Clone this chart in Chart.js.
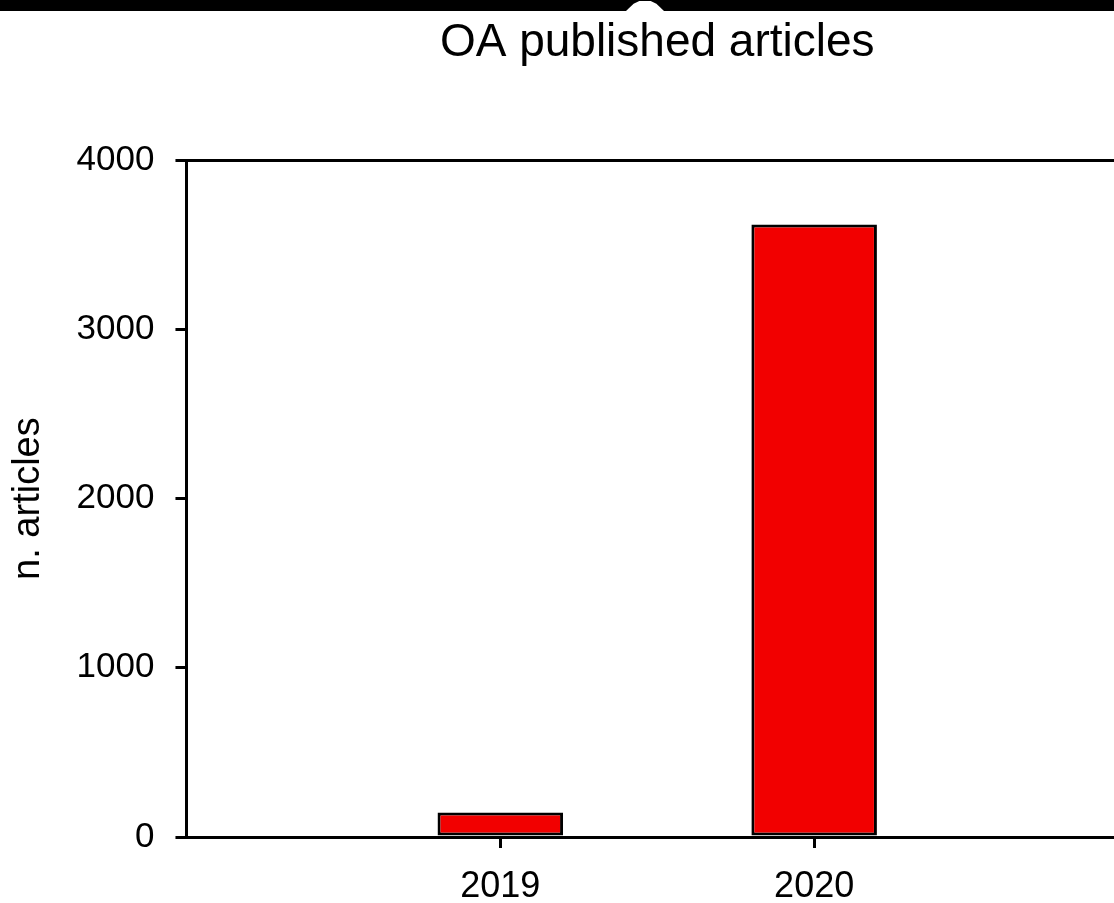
<!DOCTYPE html>
<html>
<head>
<meta charset="utf-8">
<script src="https://cdn.jsdelivr.net/npm/chart.js@4"></script>
<style>
  html, body { margin: 0; padding: 0; background: #fff; overflow: hidden; width: 1114px; height: 903px; }
  #wrap { position: absolute; left: 0; top: 0; width: 1132px; height: 926px; }
  #strip { position: absolute; left: 0; top: 0; width: 1114px; height: 11px; background: #000; z-index: 2; }
  #notch { position: absolute; left: 626px; top: 0; width: 38px; height: 11px; background: #fff; z-index: 3;
           clip-path: polygon(0 100%, 20% 35%, 35% 10%, 65% 10%, 80% 35%, 100% 100%); }
</style>
</head>
<body>
<div id="strip"></div>
<div id="notch"></div>
<div id="wrap"><canvas id="c"></canvas></div>
<script>
const titleText = 'OA published articles';
const yAxisTitle = 'n. articles';
const categories = ['2019', '2020'];
const articleCounts = [145, 3620];
const yTicks = [0, 1000, 2000, 3000, 4000];

const FONT = "'Liberation Sans', Arial, Helvetica, sans-serif";

new Chart(document.getElementById('c'), {
  type: 'bar',
  data: {
    datasets: [{
      label: titleText,
      data: categories.map((c, i) => ({ x: Number(c), y: articleCounts[i] })),
      backgroundColor: '#f20000',
      borderColor: '#000',
      borderWidth: 3,
      borderSkipped: false,
      categoryPercentage: 0.4,
      barPercentage: 1
    }]
  },
  options: {
    responsive: true,
    maintainAspectRatio: false,
    animation: false,
    devicePixelRatio: 1,
    layout: { padding: { left: 0, right: 4, top: 0, bottom: 0 } },
    plugins: {
      legend: { display: false },
      tooltip: { enabled: false },
      title: {
        display: true,
        text: titleText,
        fullSize: false,
        color: '#000',
        font: { family: FONT, size: 46, weight: 'normal', lineHeight: 1.2 },
        padding: { top: 16, bottom: 89 }
      }
    },
    scales: {
      x: {
        type: 'linear',
        min: 2018,
        max: 2021,
        offset: false,
        afterBuildTicks: (scale) => { scale.ticks = categories.map(c => ({ value: Number(c) })); },
        border: { display: true, color: '#000', width: 3 },
        grid: { display: true, drawOnChartArea: false, drawTicks: true, tickLength: 11, color: '#000', lineWidth: 3, offset: false },
        ticks: {
          color: '#000',
          padding: 21,
          font: { family: FONT, size: 36, lineHeight: 1.0 },
          callback: (v) => String(v),
          maxRotation: 0
        }
      },
      y: {
        min: 0,
        max: 4000,
        afterBuildTicks: (scale) => { scale.ticks = yTicks.map(v => ({ value: v })); },
        border: { display: true, color: '#000', width: 3 },
        grid: {
          display: true,
          drawTicks: true,
          tickLength: 11,
          lineWidth: 3,
          color: (ctx) => (ctx.tick && ctx.tick.value === 4000) ? '#000' : 'rgba(0,0,0,0)',
          tickColor: '#000'
        },
        ticks: {
          color: '#000',
          padding: 21,
          font: { family: FONT, size: 35 },
          callback: (v) => String(v)
        },
        title: {
          display: true,
          text: yAxisTitle,
          color: '#000',
          font: { family: FONT, size: 38, lineHeight: 1.2 },
          padding: { top: 6, bottom: 4 }
        }
      }
    }
  }
});
</script>
</body>
</html>
